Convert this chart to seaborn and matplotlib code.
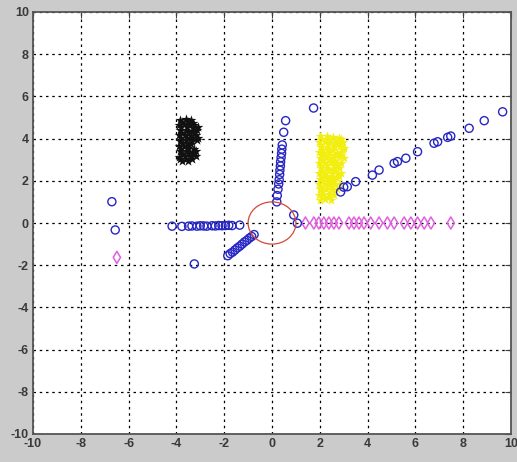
import numpy as np
import pandas as pd
import matplotlib
matplotlib.use("Agg")
import matplotlib.pyplot as plt
from matplotlib.patches import Circle
import seaborn as sns

# --- blue circles: rays leaving the unit circle plus a few strays ---
ray_left_x = [-4.18, -3.77, -3.49, -3.35, -3.14, -3.00, -2.86, -2.72, -2.51,
              -2.37, -2.23, -2.09, -1.95, -1.81, -1.67, -1.35]
ray_left_y = [-0.15, -0.16, -0.15, -0.14, -0.15, -0.13, -0.14, -0.15, -0.13,
              -0.14, -0.12, -0.13, -0.12, -0.11, -0.12, -0.10]

ray_down_x = [-0.75, -0.85, -0.95, -1.05, -1.15, -1.25, -1.35, -1.45, -1.55,
              -1.65, -1.75, -1.85]
ray_down_y = [-0.55, -0.64, -0.72, -0.82, -0.90, -1.00, -1.10, -1.18, -1.28,
              -1.38, -1.45, -1.55]

ray_up_x = [0.20, 0.22, 0.25, 0.28, 0.30, 0.32, 0.33, 0.35, 0.36, 0.38, 0.40,
            0.41, 0.43, 0.49, 0.57]
ray_up_y = [1.00, 1.30, 1.60, 1.85, 2.05, 2.30, 2.50, 2.70, 2.90, 3.10, 3.30,
            3.50, 3.70, 4.30, 4.85]

ray_diag_x = [2.87, 3.00, 3.15, 3.50, 4.20, 4.48, 5.11, 5.25, 5.60, 6.09, 6.78,
              6.93, 7.35, 7.48, 8.25, 8.88, 9.65]
ray_diag_y = [1.47, 1.70, 1.72, 1.96, 2.27, 2.51, 2.83, 2.91, 3.07, 3.38, 3.78,
              3.85, 4.06, 4.12, 4.49, 4.85, 5.27]

stray_x = [0.91, 1.06, 1.74, -6.70, -6.56, -3.25]
stray_y = [0.38, -0.01, 5.45, 1.01, -0.33, -1.94]

# --- magenta diamonds along the positive x axis ---
diamond_x = [1.40, 1.75, 1.96, 2.17, 2.38, 2.59, 2.80, 3.22, 3.43, 3.64, 3.85,
             4.13, 4.48, 4.83, 5.11, 5.53, 5.81, 6.09, 6.37, 6.65, 7.48, -6.49]
diamond_y = [0.00, 0.00, 0.00, 0.00, 0.00, 0.00, 0.00, 0.00, 0.00, 0.00, 0.00,
             0.00, 0.00, 0.00, 0.00, 0.00, 0.00, 0.00, 0.00, 0.00, 0.00, -1.63]

# --- yellow star cluster ---
yellow_x = [2.00, 2.30, 2.55, 2.80,
            1.95, 2.20, 2.45, 2.70, 2.95,
            2.05, 2.30, 2.60, 2.85, 3.00,
            1.95, 2.15, 2.40, 2.70, 2.90,
            2.00, 2.25, 2.50, 2.80, 3.00,
            1.95, 2.20, 2.45, 2.65, 2.90,
            2.05, 2.30, 2.55, 2.80,
            1.95, 2.20, 2.50, 2.75, 2.90,
            2.00, 2.25, 2.45, 2.70,
            1.95, 2.20, 2.40, 2.65, 2.85,
            2.00, 2.25, 2.50, 2.70,
            1.95, 2.15, 2.40, 2.60,
            2.00, 2.20, 2.45,
            2.10, 2.40, 2.70, 2.90,
            2.05, 2.35, 2.60, 2.85,
            2.10, 2.35, 2.55, 2.95,
            2.05, 2.35, 2.60, 2.85,
            2.10, 2.40, 2.65,
            2.05, 2.30, 2.60, 2.80,
            2.10, 2.35, 2.60,
            2.05, 2.30, 2.55, 2.80,
            2.10, 2.35, 2.55,
            2.05, 2.30, 2.50,
            2.10, 2.35]
yellow_y = [4.10, 4.12, 4.08, 4.05,
            3.85, 3.88, 3.82, 3.86, 3.84,
            3.60, 3.62, 3.58, 3.63, 3.57,
            3.35, 3.33, 3.37, 3.32, 3.36,
            3.10, 3.12, 3.08, 3.11, 3.07,
            2.85, 2.83, 2.87, 2.84, 2.86,
            2.60, 2.62, 2.58, 2.61,
            2.35, 2.33, 2.37, 2.34, 2.36,
            2.10, 2.12, 2.08, 2.11,
            1.85, 1.83, 1.87, 1.84, 1.86,
            1.60, 1.62, 1.58, 1.61,
            1.35, 1.33, 1.37, 1.34,
            1.10, 1.12, 1.08,
            3.97, 3.99, 3.95, 3.96,
            3.72, 3.74, 3.70, 3.73,
            3.47, 3.49, 3.45, 3.48,
            3.22, 3.24, 3.20, 3.23,
            2.97, 2.99, 2.95,
            2.72, 2.74, 2.70, 2.73,
            2.47, 2.49, 2.45,
            2.22, 2.24, 2.20, 2.23,
            1.97, 1.99, 1.95,
            1.72, 1.74, 1.70,
            1.47, 1.22]

# --- black star cluster ---
black_x = [-3.85, -3.60, -3.40,
           -3.90, -3.70, -3.45, -3.25,
           -3.85, -3.60, -3.35, -3.15,
           -3.90, -3.65, -3.40, -3.20,
           -3.85, -3.60, -3.35, -3.15,
           -3.90, -3.70, -3.50,
           -3.85, -3.60, -3.35, -3.20,
           -3.90, -3.65, -3.40, -3.20,
           -3.75, -3.50,
           -3.75, -3.50, -3.30,
           -3.80, -3.55, -3.30, -3.10,
           -3.75, -3.50, -3.25,
           -3.80, -3.55, -3.30, -3.10,
           -3.75, -3.55, -3.40,
           -3.80, -3.50, -3.28,
           -3.75, -3.50, -3.30,
           -3.85, -3.60, -3.35]
black_y = [4.90, 4.92, 4.88,
           4.65, 4.67, 4.63, 4.66,
           4.40, 4.42, 4.38, 4.41,
           4.15, 4.17, 4.13, 4.16,
           3.90, 3.92, 3.88, 3.91,
           3.65, 3.67, 3.63,
           3.40, 3.42, 3.38, 3.41,
           3.15, 3.17, 3.13, 3.16,
           2.95, 2.93,
           4.78, 4.80, 4.76,
           4.53, 4.55, 4.51, 4.54,
           4.28, 4.30, 4.26,
           4.03, 4.05, 4.01, 4.04,
           3.78, 3.80, 3.76,
           3.53, 3.55, 3.51,
           3.28, 3.30, 3.26,
           3.05, 3.03, 3.04]

circle_radius = 1.0
ticks = [-10, -8, -6, -4, -2, 0, 2, 4, 6, 8, 10]

sns.set_style("white")
plt.rcParams["font.family"] = ["Liberation Sans", "DejaVu Sans"]

fig = plt.figure(figsize=(5.17, 4.62), dpi=100, facecolor="#cbcbcb")
ax = fig.add_axes([33 / 517, 1 - 434 / 462, (511 - 33) / 517, (434 - 12) / 462])
ax.set_facecolor("white")

blue = "#2626c4"
blue_x = ray_left_x + ray_down_x + ray_up_x + ray_diag_x + stray_x
blue_y = ray_left_y + ray_down_y + ray_up_y + ray_diag_y + stray_y

sns.scatterplot(x=black_x, y=black_y, marker="*", s=55, color="#111111",
                linewidth=0, ax=ax)
sns.scatterplot(x=yellow_x, y=yellow_y, marker="*", s=55, color="#f2ee10",
                linewidth=0, ax=ax)
sns.scatterplot(x=diamond_x, y=diamond_y, marker="d", s=38, facecolors="none",
                edgecolor="#e060e0", linewidth=1.1, ax=ax)
sns.scatterplot(x=blue_x, y=blue_y, marker="o", s=34, facecolors="none",
                edgecolor=blue, linewidth=1.0, ax=ax)

ax.add_patch(Circle((0, 0), circle_radius, fill=False, edgecolor="#d24a3a",
                    linewidth=0.9, zorder=3))

ax.set_xlim(-10, 10)
ax.set_ylim(-10, 10)
ax.set_xticks(ticks)
ax.set_yticks(ticks)
ax.set_xticklabels([str(t) for t in ticks])
ax.set_yticklabels([str(t) for t in ticks])
ax.grid(True, color="black", linestyle=(0, (2, 3)), linewidth=0.9)
ax.set_axisbelow(True)
ax.tick_params(direction="in", length=4, width=0.8, colors="#404040",
               labelsize=9, top=True, right=True, pad=3)
for lab in ax.get_xticklabels() + ax.get_yticklabels():
    lab.set_fontweight("bold")
    lab.set_color("#3a3a3a")
for sp in ax.spines.values():
    sp.set_color("#555555")
    sp.set_linewidth(1.3)

fig.savefig("out.png", dpi=100, facecolor=fig.get_facecolor())
